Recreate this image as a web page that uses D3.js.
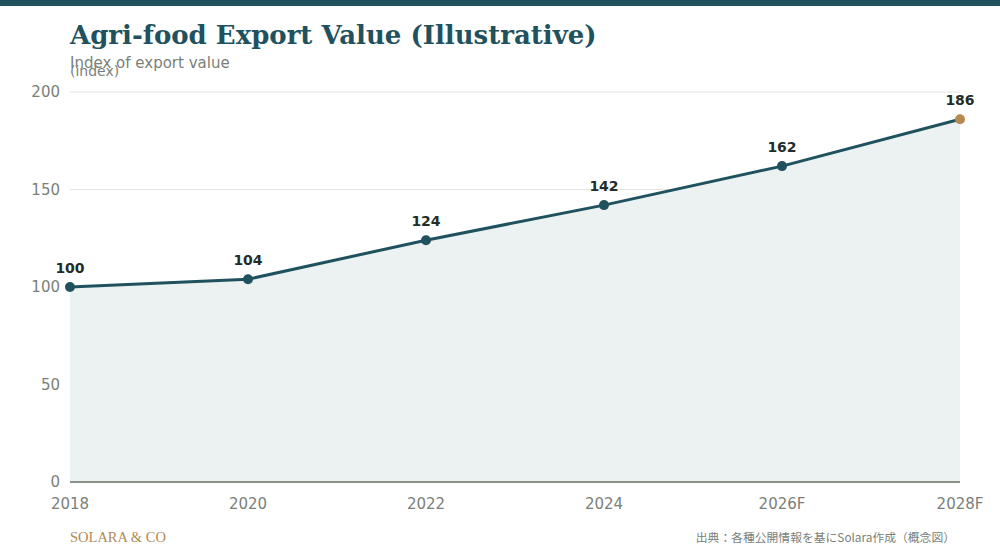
<!DOCTYPE html>
<html>
<head>
<meta charset="utf-8">
<script src="https://cdn.jsdelivr.net/npm/d3@7"></script>
<style>
  body { margin: 0; background: #fff; }
  svg { display: block; }
</style>
</head>
<body>
<svg id="chart" width="1000" height="560"></svg>
<script>
// data
var years = ['2018', '2020', '2022', '2024', '2026F', '2028F'];
var values = [100, 104, 124, 142, 162, 186];
var yTicks = [0, 50, 100, 150, 200];

var svg = d3.select('#chart');
var m = { left: 70, right: 40, top: 92, bottom: 78 };
var W = 1000, H = 560;

var x = d3.scalePoint().domain(years).range([m.left, W - m.right]);
var y = d3.scaleLinear().domain([0, 200]).range([H - m.bottom, m.top]);

// top band
svg.append('rect').attr('x', 0).attr('y', 0).attr('width', W).attr('height', 6).attr('fill', '#1f525e');

// title
svg.append('text').attr('x', 70).attr('y', 44)
    .attr('font-family', 'DejaVu Serif').attr('font-weight', 'bold').attr('font-size', 26)
    .attr('fill', '#1f525e').text('Agri-food Export Value (Illustrative)');
svg.append('text').attr('x', 70).attr('y', 68)
    .attr('font-family', 'DejaVu Sans').attr('font-size', 15)
    .attr('fill', '#7a7f7a').text('Index of export value');
svg.append('text').attr('x', 70).attr('y', 76)
    .attr('font-family', 'DejaVu Sans').attr('font-size', 14)
    .attr('fill', '#7a7f7a').text('(index)');

// grid
svg.append('g').selectAll('line').data(yTicks.filter(function(t) { return t > 0; }))
    .enter().append('line')
    .attr('x1', m.left).attr('x2', W - m.right)
    .attr('y1', function(d) { return y(d); }).attr('y2', function(d) { return y(d); })
    .attr('stroke', '#e6e2dc').attr('stroke-width', 1);

// y labels
svg.append('g').selectAll('text').data(yTicks).enter().append('text')
    .attr('x', 60).attr('y', function(d) { return y(d) + 5; })
    .attr('text-anchor', 'end')
    .attr('font-family', 'DejaVu Sans').attr('font-size', 15).attr('fill', '#7a7f7a')
    .text(function(d) { return d; });

// area + line
var pts = years.map(function(yr, i) { return { yr: yr, v: values[i] }; });
svg.append('path').datum(pts)
    .attr('d', d3.area().x(function(d) { return x(d.yr); }).y0(y(0)).y1(function(d) { return y(d.v); }))
    .attr('fill', '#ecf1f1');
svg.append('path').datum(pts)
    .attr('d', d3.line().x(function(d) { return x(d.yr); }).y(function(d) { return y(d.v); }))
    .attr('fill', 'none').attr('stroke', '#1f525e').attr('stroke-width', 3);

// baseline
svg.append('line').attr('x1', m.left).attr('x2', W - m.right)
    .attr('y1', y(0)).attr('y2', y(0)).attr('stroke', '#8a9489').attr('stroke-width', 2);

// x labels
svg.append('g').selectAll('text').data(years).enter().append('text')
    .attr('x', function(d) { return x(d); }).attr('y', y(0) + 27)
    .attr('text-anchor', 'middle')
    .attr('font-family', 'DejaVu Sans').attr('font-size', 15).attr('fill', '#7a7f7a')
    .text(function(d) { return d; });

// points
var last = pts.length - 1;
svg.append('g').selectAll('circle').data(pts).enter().append('circle')
    .attr('cx', function(d) { return x(d.yr); }).attr('cy', function(d) { return y(d.v); })
    .attr('r', 5)
    .attr('fill', function(d, i) { return i === last ? '#b5894f' : '#1f525e'; });

svg.append('g').selectAll('text').data(pts).enter().append('text')
    .attr('x', function(d) { return x(d.yr); }).attr('y', function(d) { return y(d.v) - 14; })
    .attr('text-anchor', 'middle')
    .attr('font-family', 'DejaVu Sans').attr('font-weight', 'bold').attr('font-size', 14)
    .attr('fill', '#222d2a')
    .text(function(d) { return d.v; });

// footer
svg.append('text').attr('x', 70).attr('y', 542)
    .attr('font-family', 'Liberation Serif').attr('font-size', 14.5).attr('fill', '#b08a55')
    .text('SOLARA & CO');
svg.append('text').attr('x', 955).attr('y', 542).attr('text-anchor', 'end')
    .attr('font-family', 'Noto Sans CJK JP').attr('font-size', 11.8).attr('fill', '#7a7f7a')
    .text('出典：各種公開情報を基にSolara作成（概念図）');
</script>
</body>
</html>
